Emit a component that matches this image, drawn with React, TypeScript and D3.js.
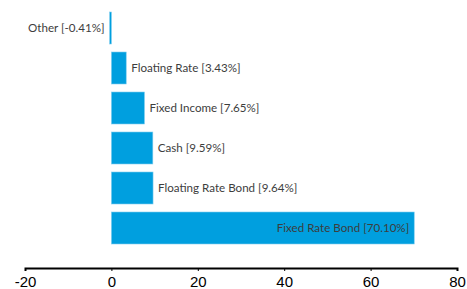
import React, { useRef, useEffect } from "react";
import * as d3 from "d3";

const categories = [
  "Other",
  "Floating Rate",
  "Fixed Income",
  "Cash",
  "Floating Rate Bond",
  "Fixed Rate Bond",
];
const values = [-0.41, 3.43, 7.65, 9.59, 9.64, 70.1];
const xTicks = [-20, 0, 20, 40, 60, 80];

const W = 467;
const H = 289;

export default function App() {
  const svgRef = useRef<SVGSVGElement>(null);

  useEffect(() => {
    const svg = d3.select(svgRef.current);
    svg.selectAll("*").remove();

    const data = categories.map((c, i) => ({ name: c, value: values[i] }));

    const x = d3.scaleLinear().domain([-20, 80]).range([25, 457]);
    const y = d3
      .scaleBand()
      .domain(categories)
      .range([8, 248])
      .paddingInner(0.2)
      .paddingOuter(0.1);

    const g = svg.append("g");

    g.selectAll("rect")
      .data(data)
      .join("rect")
      .attr("x", (d) => x(Math.min(0, d.value)))
      .attr("y", (d) => y(d.name)!)
      .attr("width", (d) => Math.abs(x(d.value) - x(0)))
      .attr("height", y.bandwidth())
      .attr("fill", "#009fdf")
      .attr("stroke", "#7fcdee")
      .attr("stroke-width", 0.6);

    // labels: outside unless the bar is long enough
    g.selectAll("text.lbl")
      .data(data)
      .join("text")
      .attr("class", "lbl")
      .attr("x", (d) => {
        if (d.value < 0) return x(d.value) - 5;
        if (d.value > 40) return x(d.value) - 5;
        return x(d.value) + 5;
      })
      .attr("y", (d) => y(d.name)! + y.bandwidth() / 2)
      .attr("dy", "0.35em")
      .attr("text-anchor", (d) => (d.value < 0 || d.value > 40 ? "end" : "start"))
      .attr("font-family", "Lato, 'Open Sans', sans-serif")
      .attr("font-size", 11.6)
      .attr("fill", "#3d3d3d")
      .text((d) => `${d.name} [${d.value.toFixed(2)}%]`);

    const axis = svg
      .append("g")
      .attr("transform", `translate(0,268)`)
      .call(
        d3
          .axisBottom(x)
          .tickValues(xTicks)
          .tickSize(3)
          .tickSizeOuter(3)
          .tickPadding(5)
          .tickFormat((d) => String(d))
      );
    axis.select(".domain").attr("stroke", "#000").attr("stroke-width", 2);
    axis.selectAll(".tick line").attr("stroke", "#000");
    axis
      .selectAll(".tick text")
      .attr("font-family", "'Liberation Sans', Arial, sans-serif")
      .attr("font-size", 15)
      .attr("fill", "#000");
  }, []);

  return (
    <svg
      ref={svgRef}
      width={W}
      height={H}
      style={{ position: "absolute", left: 0, top: 0, background: "#fff" }}
    />
  );
}
